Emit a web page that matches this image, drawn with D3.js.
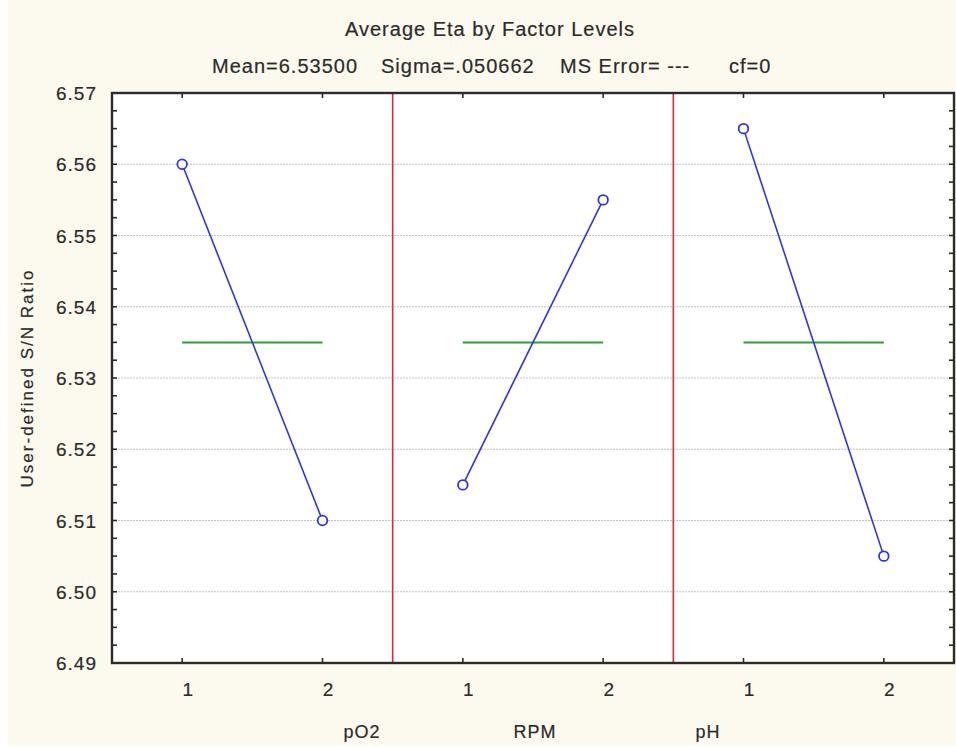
<!DOCTYPE html>
<html>
<head>
<meta charset="utf-8">
<script src="https://cdn.jsdelivr.net/npm/d3@7"></script>
<style>
  body { margin: 0; background: #ffffff; }
  svg text { font-family: "Liberation Sans", Arial, sans-serif; }
</style>
</head>
<body>
<div id="chart"></div>
<script>
(function () {

    var factors = ["pO2", "RPM", "pH"];
    var levels = ["1", "2"];
    // average eta per factor level
    var etaValues = [
        [6.560, 6.510],
        [6.515, 6.555],
        [6.565, 6.505]
    ];
    var grandMean = 6.535;
    var yTicks = [6.49, 6.50, 6.51, 6.52, 6.53, 6.54, 6.55, 6.56, 6.57];
    var title = "Average Eta by Factor Levels";
    var subtitleParts = ["Mean=6.53500", "Sigma=.050662", "MS Error= ---", "cf=0"];
    var yLabel = "User-defined S/N Ratio";

    var width = 956, height = 748;
    var left = 112, right = 954, top = 93, bottom = 663;
    var ink = "#2b2b2b";

    var svg = d3.select("#chart").append("svg")
        .attr("width", width)
        .attr("height", height);

    svg.append("rect")
        .attr("x", 8).attr("y", 0)
        .attr("width", width - 8).attr("height", 745)
        .style("fill", "#fcfaee");

    svg.append("rect")
        .attr("x", left).attr("y", top)
        .attr("width", right - left).attr("height", bottom - top)
        .style("fill", "#ffffff");

    var y = d3.scaleLinear().domain([6.49, 6.57]).range([bottom, top]);
    var xf = d3.scaleBand().domain(factors).range([left, right]).padding(0);
    var xl = d3.scalePoint().domain(levels).range([0, xf.bandwidth()]).padding(0.5);

    function px(fi, li) { return xf(factors[fi]) + xl(levels[li]); }

    // grid
    svg.selectAll("line.grid")
        .data(yTicks.slice(1, -1))
        .enter().append("line")
        .attr("class", "grid")
        .attr("x1", left).attr("x2", right)
        .attr("y1", function (d) { return y(d); })
        .attr("y2", function (d) { return y(d); })
        .style("stroke", "#c4c4c4")
        .style("stroke-width", 1)
        .style("stroke-dasharray", "2,1");

    // separators between factors
    svg.selectAll("line.sep")
        .data(factors.slice(1))
        .enter().append("line")
        .attr("class", "sep")
        .attr("x1", function (d) { return xf(d); })
        .attr("x2", function (d) { return xf(d); })
        .attr("y1", top).attr("y2", bottom)
        .style("stroke", "#e0283a")
        .style("stroke-width", 1.6);

    // mean lines
    svg.selectAll("line.mean")
        .data(factors)
        .enter().append("line")
        .attr("class", "mean")
        .attr("x1", function (d, i) { return px(i, 0); })
        .attr("x2", function (d, i) { return px(i, 1); })
        .attr("y1", y(grandMean)).attr("y2", y(grandMean))
        .style("stroke", "#2e9e35")
        .style("stroke-width", 2);

    // factor lines
    var line = d3.line()
        .x(function (d) { return d.x; })
        .y(function (d) { return y(d.v); });

    var pts = [];
    etaValues.forEach(function (vals, fi) {
        var seg = vals.map(function (v, li) { return { x: px(fi, li), v: v }; });
        pts = pts.concat(seg);
        svg.append("path")
            .datum(seg)
            .attr("d", line)
            .style("fill", "none")
            .style("stroke", "#3333e6")
            .style("stroke-width", 1.6);
    });

    svg.selectAll("circle")
        .data(pts)
        .enter().append("circle")
        .attr("cx", function (d) { return d.x; })
        .attr("cy", function (d) { return y(d.v); })
        .attr("r", 4.8)
        .style("fill", "#ffffff")
        .style("stroke", "#3333e6")
        .style("stroke-width", 1.8);

    // ticks (inward)
    var minor = d3.range(0, 33).map(function (i) { return 6.49 + i * 0.0025; });
    [left, right].forEach(function (xe, side) {
        svg.selectAll("line.yt" + side)
            .data(minor)
            .enter().append("line")
            .attr("class", "yt" + side)
            .attr("x1", xe)
            .attr("x2", side === 0 ? xe + 5 : xe - 5)
            .attr("y1", function (d) { return y(d); })
            .attr("y2", function (d) { return y(d); })
            .style("stroke", ink)
            .style("stroke-width", 1.6);
    });

    var catPts = [];
    factors.forEach(function (f, fi) {
        levels.forEach(function (l, li) { catPts.push({ x: px(fi, li), label: l }); });
    });
    [bottom, top].forEach(function (ye, side) {
        svg.selectAll("line.xt" + side)
            .data(catPts)
            .enter().append("line")
            .attr("class", "xt" + side)
            .attr("x1", function (d) { return d.x; })
            .attr("x2", function (d) { return d.x; })
            .attr("y1", ye)
            .attr("y2", side === 0 ? ye - 5 : ye + 5)
            .style("stroke", ink)
            .style("stroke-width", 1.6);
    });

    // frame
    svg.append("rect")
        .attr("x", left).attr("y", top)
        .attr("width", right - left).attr("height", bottom - top)
        .style("fill", "none")
        .style("stroke", ink)
        .style("stroke-width", 2.4);

    function textStyle(sel, size, spacing) {
        return sel.style("font-size", size + "px")
            .style("fill", ink)
            .style("stroke", ink)
            .style("stroke-width", 0.2)
            .style("letter-spacing", (spacing || 1) + "px");
    }

    // y tick labels
    textStyle(svg.selectAll("text.ylab")
        .data(yTicks)
        .enter().append("text")
        .attr("class", "ylab")
        .attr("x", left - 15)
        .attr("y", function (d) { return y(d) + 7; })
        .attr("text-anchor", "end")
        .text(function (d) { return d.toFixed(2); }), 19);

    // x tick labels
    textStyle(svg.selectAll("text.xlab")
        .data(catPts)
        .enter().append("text")
        .attr("class", "xlab")
        .attr("x", function (d) { return d.x + 6; })
        .attr("y", bottom + 33)
        .attr("text-anchor", "middle")
        .text(function (d) { return d.label; }), 19);

    // factor names
    var mid = (left + right) / 2;
    textStyle(svg.selectAll("text.fname")
        .data(factors)
        .enter().append("text")
        .attr("class", "fname")
        .attr("x", function (d, i) { return mid + 2 + (i - 1) * 173; })
        .attr("y", 738)
        .attr("text-anchor", "middle")
        .text(function (d) { return d; }), 18);

    textStyle(svg.append("text")
        .attr("x", 490).attr("y", 36)
        .attr("text-anchor", "middle")
        .text(title), 20);

    var subX = [212, 381, 560, 729];
    textStyle(svg.selectAll("text.sub")
        .data(subtitleParts)
        .enter().append("text")
        .attr("class", "sub")
        .attr("x", function (d, i) { return subX[i]; })
        .attr("y", 73)
        .text(function (d) { return d; }), 20);

    textStyle(svg.append("text")
        .attr("transform", "translate(33," + ((top + bottom) / 2) + ") rotate(-90)")
        .attr("text-anchor", "middle")
        .text(yLabel), 17, 2);
})();
</script>
</body>
</html>
